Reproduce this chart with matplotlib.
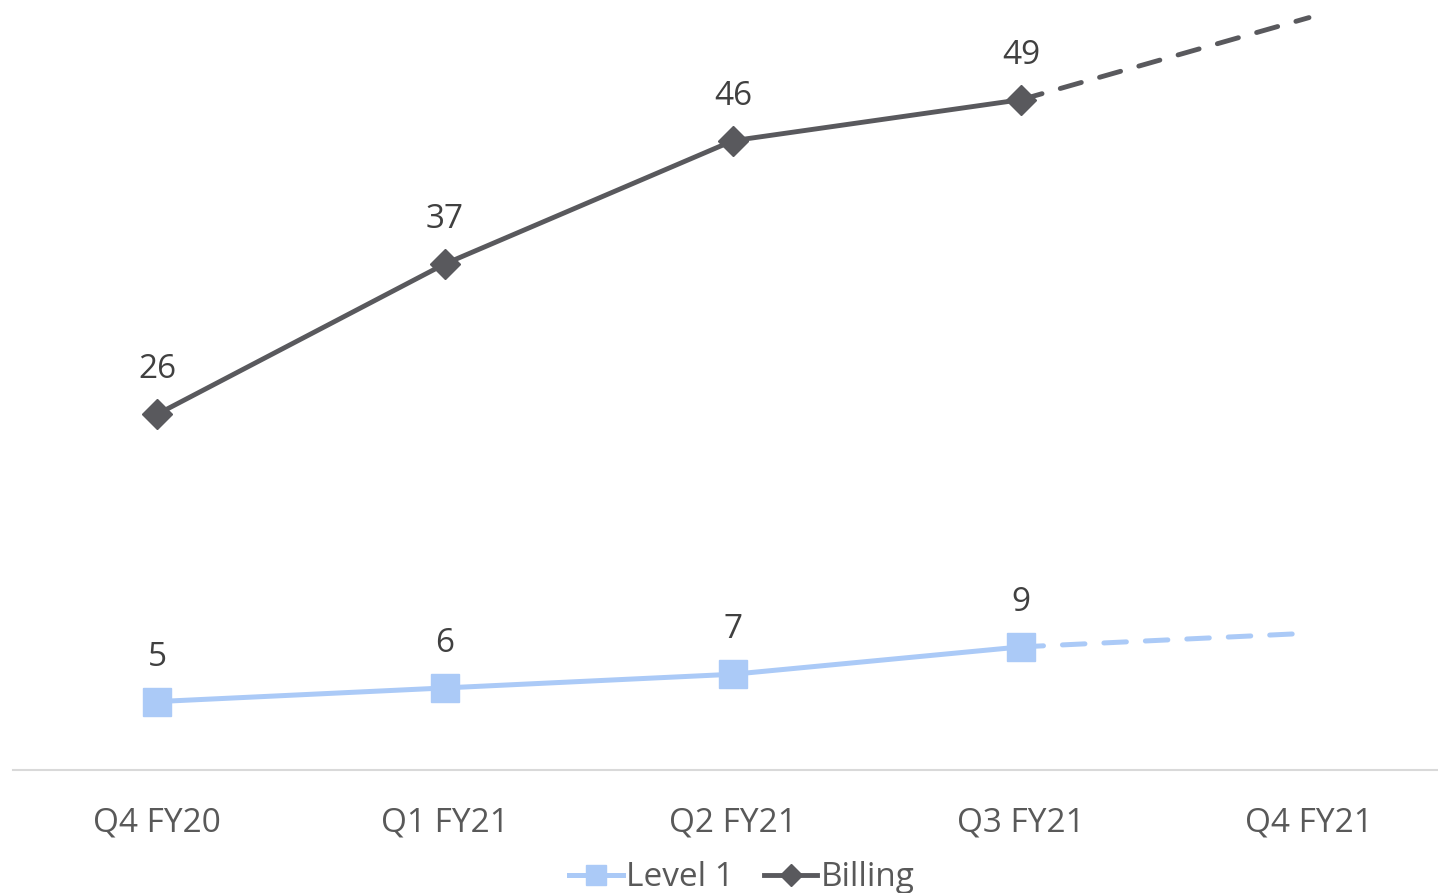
import numpy as np
import matplotlib
matplotlib.use("Agg")
import matplotlib.pyplot as plt

quarters = ['Q4 FY20', 'Q1 FY21', 'Q2 FY21', 'Q3 FY21', 'Q4 FY21']
level1 = [5, 6, 7, 9]
billing = [26, 37, 46, 49]
# projected values (dashed part, Q3 FY21 -> Q4 FY21)
level1_proj = [9, 10]
billing_proj = [49, 55]

blue = '#abcaf7'
grey = '#59595d'

plt.rcParams['font.family'] = ['Open Sans', 'DejaVu Sans']

fig = plt.figure(figsize=(14.38, 8.93), dpi=100)
ax = fig.add_axes([13/1438, 123/893, 1425/1438, 770/893])

x = np.arange(len(quarters))
n = len(level1)

l1, = ax.plot(x[:n], level1, color=blue, lw=3.6, marker='s', ms=20,
              label='Level 1', zorder=3)
b1, = ax.plot(x[:n], billing, color=grey, lw=3.5, marker='D', ms=15,
              label='Billing', zorder=3)
ax.plot(x[n-1:], level1_proj, color=blue, lw=3.6, dashes=(4.5, 3.8),
        dash_capstyle='round', clip_on=False, zorder=2)
ax.plot(x[n-1:], billing_proj, color=grey, lw=3.5, dashes=(4.5, 3.9),
        dash_capstyle='round', clip_on=False, zorder=2)

for xi, v in zip(x[:n], level1):
    ax.annotate(str(v), (xi, v), xytext=(0, 32), textcoords='offset points',
                ha='center', va='center', fontsize=24, color='#404040')
for xi, v in zip(x[:n], billing):
    ax.annotate(str(v), (xi, v), xytext=(0, 32), textcoords='offset points',
                ha='center', va='center', fontsize=24, color='#404040')

ax.set_xlim(-0.5, (1438 - 157) / 288)
ax.set_ylim(0, 770 / 13.68)
ax.set_xticks(x)
ax.set_xticklabels(quarters, fontsize=24, color='#595959')
ax.set_yticks([])
ax.tick_params(axis='x', length=0, pad=26)
for s in ['top', 'right', 'left']:
    ax.spines[s].set_visible(False)
ax.spines['bottom'].set_color('#d9d9d9')
ax.spines['bottom'].set_linewidth(1.5)

leg = fig.legend(handles=[l1, b1], loc='center', bbox_to_anchor=(742/1438, 15/893),
                 ncol=2, frameon=False, fontsize=24, handlelength=1.6,
                 handletextpad=0.1, columnspacing=0.9, markerscale=0.75,
                 labelcolor='#595959')

fig.savefig('out.png', dpi=100)
